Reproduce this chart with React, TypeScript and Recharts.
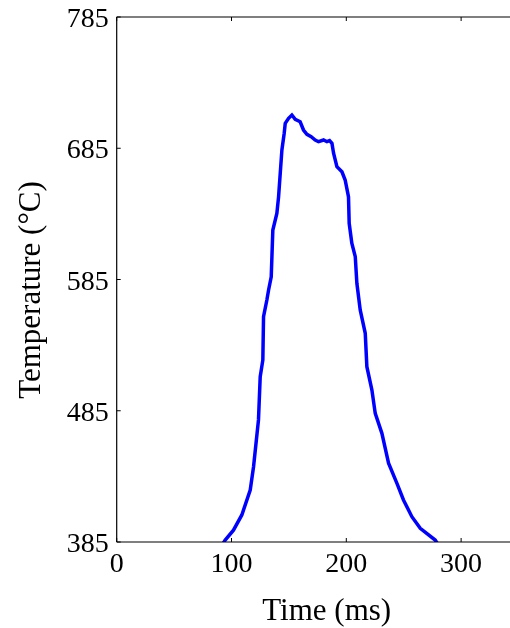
import React from "react";
import { LineChart, Line, XAxis, YAxis, Label } from "recharts";

// values
const timeMs = [
  92, 94.5, 101.7, 109, 116.3, 119.2, 123.5, 125, 127.3, 127.9, 130.8, 132.3,
  134.6, 136, 139.5, 141, 143.9, 145.9, 146.8, 149.7, 152.6, 155.5, 159.8,
  162.7, 165.7, 169.4, 172.9, 175.8, 180.2, 183.1, 185.4, 187.5, 188.9, 191.8,
  196.2, 199, 201.9, 202.5, 204.8, 207.8, 209.2, 212.1, 216.5, 217.9, 222.3,
  225.2, 231, 236.8, 244.1, 249.8, 257.1, 264.4, 277.4, 280,
];
const temperature = [
  383, 386.5, 394, 405.6, 424.6, 442.4, 478, 511, 523.7, 556.7, 569.4, 577,
  587, 622.7, 635.4, 648, 683.7, 696.4, 704, 707.8, 710.3, 707, 705.2, 698.9,
  695.6, 693.8, 691.3, 690, 691.3, 690, 690.8, 688.8, 681.2, 671, 667.1, 660.8,
  648, 627.8, 612.6, 602.4, 582.1, 561.8, 544, 518.6, 500.8, 483, 467.8, 445,
  429.7, 417, 404.3, 395.4, 386.5, 383,
];
const xTicks = [0, 100, 200, 300];
const yTicks = [385, 485, 585, 685, 785];

const data = timeMs.map((t, i) => ({ t, temp: temperature[i] }));

const font = "'Liberation Serif', 'Times New Roman', serif";

const XTick = ({ x, y, payload }: any) => (
  <text
    x={x}
    y={y}
    dy={20}
    textAnchor="middle"
    fontSize={28}
    fontFamily={font}
    fill="#000"
  >
    {payload.value}
  </text>
);

const YTick = ({ x, y, payload }: any) => (
  <text
    x={x}
    y={y}
    dy={10}
    textAnchor="end"
    fontSize={28}
    fontFamily={font}
    fill="#000"
  >
    {payload.value}
  </text>
);

export default function App() {
  return (
    <div
      style={{
        position: "fixed",
        left: 0,
        top: 0,
        width: 510,
        height: 628,
        overflow: "hidden",
      }}
    >
      <LineChart
        width={538}
        height={628}
        data={data}
        margin={{ top: 16, right: 8, left: 8, bottom: 0 }}
      >
        <XAxis
          dataKey="t"
          type="number"
          domain={[0, 360]}
          ticks={xTicks}
          height={86}
          tickSize={-4}
          tickMargin={14}
          tick={<XTick />}
          axisLine={{ stroke: "#000", strokeWidth: 1.2 }}
          tickLine={{ stroke: "#000" }}
        >
          <Label
            content={({ viewBox }: any) => (
              <text
                x={viewBox.x + 210}
                y={viewBox.y + 78}
                textAnchor="middle"
                fontSize={31}
                fontFamily={font}
                fill="#000"
              >
                Time (ms)
              </text>
            )}
          />
        </XAxis>
        <XAxis
          xAxisId="top"
          orientation="top"
          dataKey="t"
          type="number"
          domain={[0, 360]}
          ticks={xTicks}
          height={1}
          tickSize={-4}
          tick={() => <g />}
          axisLine={{ stroke: "#000", strokeWidth: 1.2 }}
          tickLine={{ stroke: "#000" }}
        />
        <YAxis
          type="number"
          domain={[385, 785]}
          ticks={yTicks}
          allowDataOverflow
          width={108.7}
          tickSize={-4}
          tickMargin={12}
          tick={<YTick />}
          axisLine={{ stroke: "#000", strokeWidth: 1.2 }}
          tickLine={{ stroke: "#000" }}
        >
          <Label
            content={({ viewBox }: any) => {
              const cx = viewBox.x + 21;
              const cy = viewBox.y + viewBox.height / 2 + 10.5;
              return (
                <text
                  x={cx}
                  y={cy}
                  transform={`rotate(-90, ${cx}, ${cy})`}
                  textAnchor="middle"
                  dominantBaseline="central"
                  fontSize={31}
                  fontFamily={font}
                  fill="#000"
                >
                  Temperature (°C)
                </text>
              );
            }}
          />
        </YAxis>
        <Line
          dataKey="temp"
          type="linear"
          stroke="#0000ff"
          strokeWidth={3.5}
          dot={false}
          isAnimationActive={false}
        />
      </LineChart>
    </div>
  );
}
